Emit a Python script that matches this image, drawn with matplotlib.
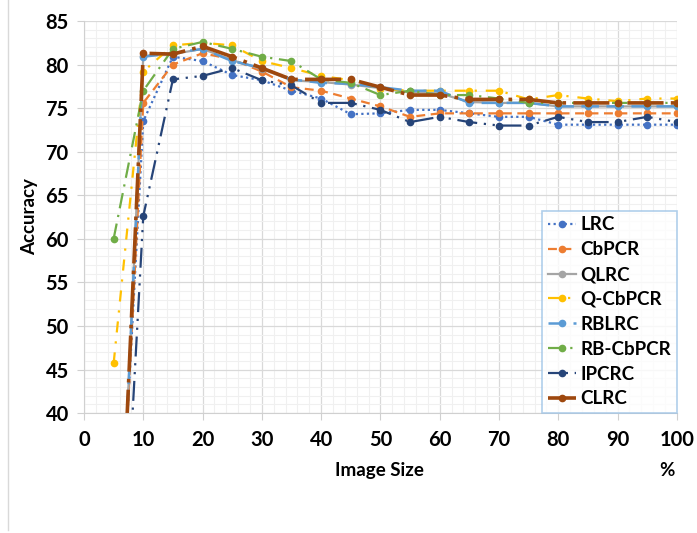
import numpy as np
import matplotlib
matplotlib.use("Agg")
from matplotlib import pyplot as plt
from matplotlib.lines import Line2D
from matplotlib.ticker import MultipleLocator

# image size (%) and accuracy per method
sizes = [5, 10, 15, 20, 25, 30, 35, 40, 45, 50, 55, 60, 65, 70, 75, 80, 85, 90, 95, 100]

lrc = [10, 73.5, 80.9, 80.4, 78.8, 78.2, 77.0, 76.1, 74.3, 74.4, 74.8, 74.8, 74.4, 74.0, 74.0, 73.1, 73.1, 73.1, 73.1, 73.1]
cbpcr = [8, 75.6, 80.0, 81.3, 80.6, 79.2, 77.4, 77.0, 76.1, 75.2, 74.0, 74.4, 74.4, 74.4, 74.4, 74.4, 74.4, 74.4, 74.4, 74.4]
qlrc = [5, 81.0, 81.2, 81.8, 80.5, 79.5, 78.2, 78.0, 77.7, 77.3, 76.8, 76.7, 75.7, 75.6, 75.6, 75.2, 75.2, 75.2, 75.2, 75.2]
q_cbpcr = [45.7, 79.2, 82.2, 82.5, 82.2, 80.4, 79.6, 78.7, 78.2, 77.2, 77.0, 77.0, 77.0, 77.0, 76.0, 76.5, 76.1, 75.8, 76.1, 76.1]
rblrc = [5, 80.9, 81.3, 81.8, 80.4, 79.6, 78.3, 77.9, 77.8, 77.4, 77.0, 77.0, 75.6, 75.6, 75.6, 75.2, 75.2, 75.2, 75.2, 75.2]
rb_cbpcr = [60.0, 77.0, 81.8, 82.6, 81.8, 80.9, 80.4, 78.3, 77.9, 76.5, 77.0, 76.5, 76.5, 76.1, 75.6, 75.6, 75.6, 75.6, 75.6, 75.6]
ipcrc = [0, 62.6, 78.3, 78.7, 79.6, 78.2, 77.6, 75.6, 75.6, 74.8, 73.4, 74.0, 73.4, 73.0, 73.0, 74.0, 73.4, 73.4, 74.0, 73.4]
clrc = [5, 81.3, 81.2, 82.1, 80.9, 79.6, 78.3, 78.3, 78.3, 77.4, 76.5, 76.5, 76.0, 76.0, 76.0, 75.6, 75.6, 75.6, 75.6, 75.6]

names = ["LRC", "CbPCR", "QLRC", "Q-CbPCR", "RBLRC", "RB-CbPCR", "IPCRC", "CLRC"]
series = [lrc, cbpcr, qlrc, q_cbpcr, rblrc, rb_cbpcr, ipcrc, clrc]
colors = ["#4472C4", "#ED7D31", "#A5A5A5", "#FFC000", "#5B9BD5", "#70AD47", "#264478", "#9E480E"]
styles = [(0, (1, 1.5)), (0, (4, 2.5)), "-", (0, (5, 4, 1, 4)), (0, (7, 3)),
          (0, (7, 3, 1, 3)), (0, (9, 3, 1, 3, 1, 3)), (0, (10, 2, 1, 2))]
widths = [1.6, 1.6, 1.6, 1.6, 1.8, 1.6, 1.6, 2.6]

plt.rcParams["font.family"] = ["Lato", "DejaVu Sans"]

fig = plt.figure(figsize=(6.97, 5.33), dpi=100)
ax = fig.add_axes([0.1205, 0.225, 0.8505, 0.7356])

for name, vals, c, ls, lw in zip(names, series, colors, styles, widths):
    ax.plot(sizes, vals, color=c, linestyle=ls, linewidth=lw, marker="o",
            markersize=4.5, label=name)

ax.set_xlim(0, 100)
ax.set_ylim(40, 85)
ax.xaxis.set_major_locator(MultipleLocator(10))
ax.yaxis.set_major_locator(MultipleLocator(5))
ax.xaxis.set_minor_locator(MultipleLocator(2))
ax.yaxis.set_minor_locator(MultipleLocator(1))
ax.grid(which="major", color="#D9D9D9", linewidth=0.9)
ax.grid(which="minor", color="#F0F0F0", linewidth=0.8)
ax.set_axisbelow(True)

for s in ["top", "right"]:
    ax.spines[s].set_visible(False)
for s in ["left", "bottom"]:
    ax.spines[s].set_color("#D0D0D0")
ax.tick_params(which="major", length=5, color="#D0D0D0", labelsize=14.5, pad=6)
ax.tick_params(which="minor", length=0)
ax.tick_params(axis="x", pad=7)
for t in ax.get_xticklabels() + ax.get_yticklabels():
    t.set_fontweight("bold")

ax.set_ylabel("Accuracy", fontsize=13.5, fontweight="bold", labelpad=5)
fig.text(0.545, 0.118, "Image Size", fontsize=13.5, fontweight="bold", ha="center", va="center")
fig.text(0.957, 0.118, "%", fontsize=13.5, fontweight="bold", ha="center", va="center")

leg = ax.legend(loc="lower right", bbox_to_anchor=(1.0, 0.0), frameon=True, fancybox=False,
                prop={"weight": "bold", "size": 13.5}, handlelength=1.5, handletextpad=0.25,
                labelspacing=0.42, borderpad=0.3, borderaxespad=0.0)
leg.get_frame().set_edgecolor("#9DC3E6")
leg.get_frame().set_linewidth(1.2)

fig.add_artist(Line2D([0.012, 0.012], [0.005, 1.0], color="#D9D9D9", linewidth=1.0))

fig.savefig("out.png", dpi=100)
